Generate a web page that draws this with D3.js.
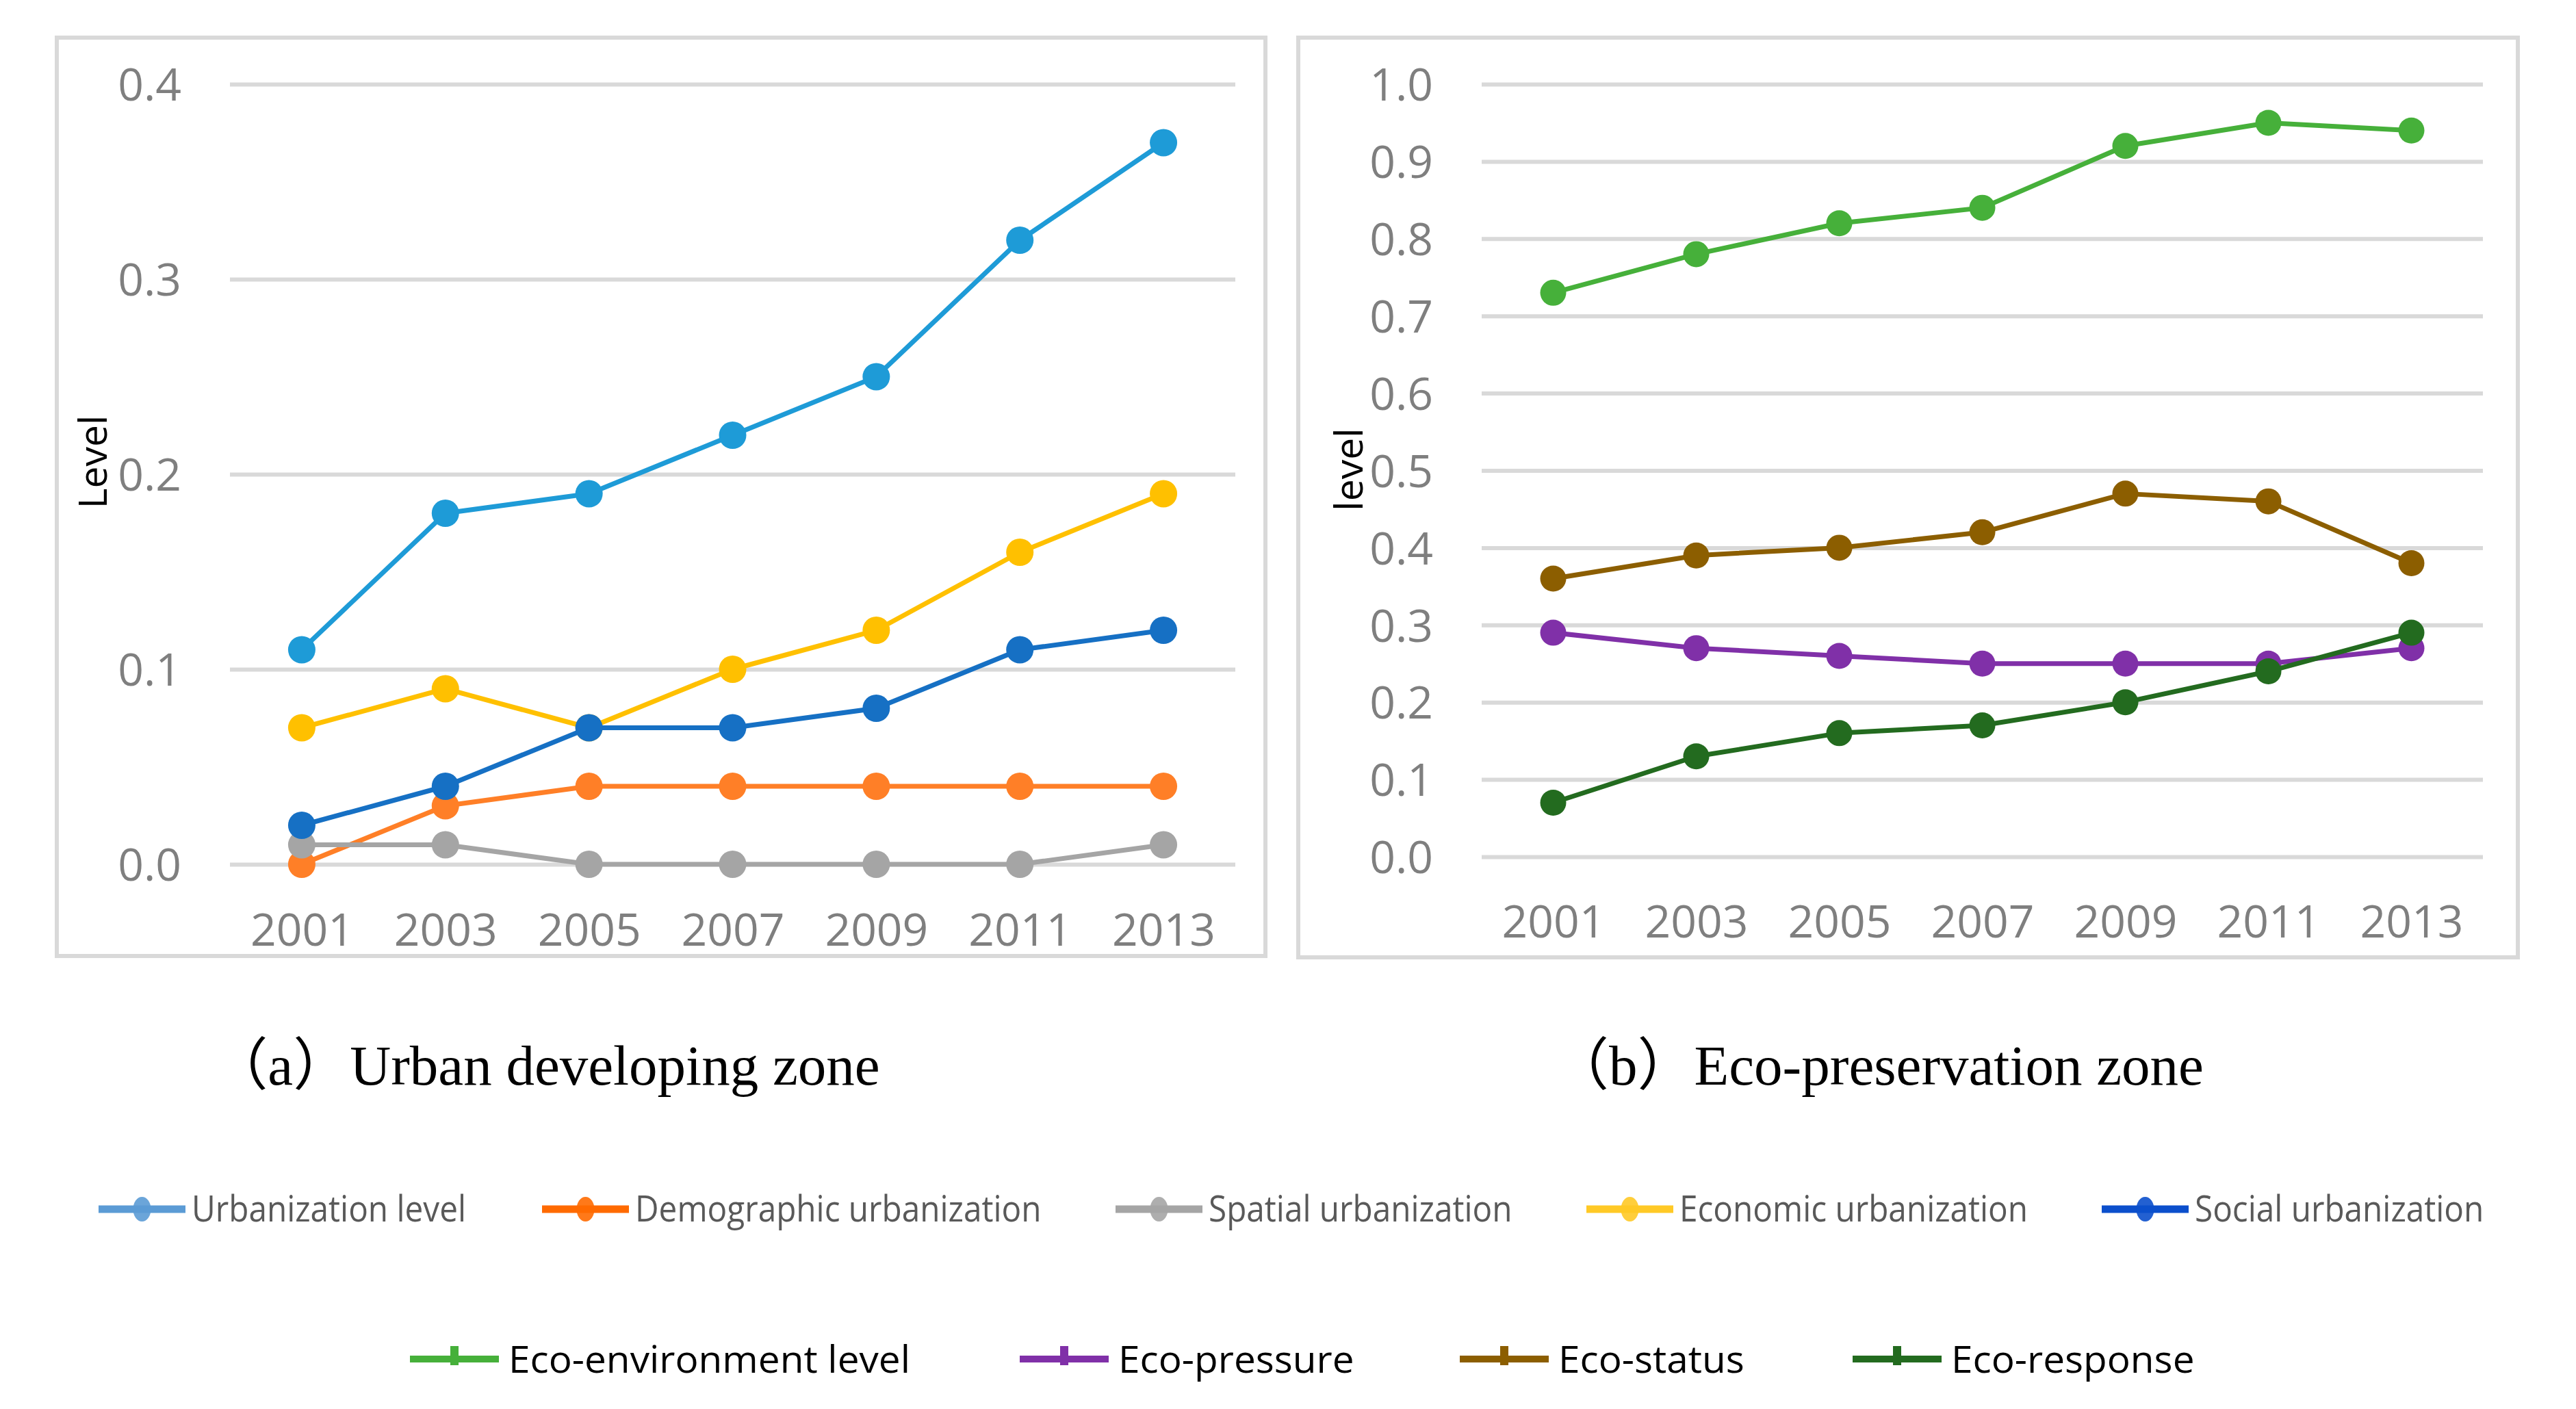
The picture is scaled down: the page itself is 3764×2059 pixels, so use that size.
<!DOCTYPE html>
<html>
<head>
<meta charset="utf-8">
<script src="https://cdn.jsdelivr.net/npm/d3@7"></script>
<style>
  html, body { margin: 0; padding: 0; background: #ffffff; }
  svg { display: block; }
</style>
</head>
<body>
<svg id="chart" width="3764" height="2059"></svg>
<script>
// ---------------- DATA ----------------
const years = ["2001", "2003", "2005", "2007", "2009", "2011", "2013"];

// (a) Urban developing zone
const urbanizationLevel       = [0.11, 0.18, 0.19, 0.22, 0.25, 0.32, 0.37];
const demographicUrbanization = [0.00, 0.03, 0.04, 0.04, 0.04, 0.04, 0.04];
const spatialUrbanization     = [0.01, 0.01, 0.00, 0.00, 0.00, 0.00, 0.01];
const economicUrbanization    = [0.07, 0.09, 0.07, 0.10, 0.12, 0.16, 0.19];
const socialUrbanization      = [0.02, 0.04, 0.07, 0.07, 0.08, 0.11, 0.12];

// (b) Eco-preservation zone
const ecoEnvironmentLevel = [0.73, 0.78, 0.82, 0.84, 0.92, 0.95, 0.94];
const ecoPressure         = [0.29, 0.27, 0.26, 0.25, 0.25, 0.25, 0.27];
const ecoStatus           = [0.36, 0.39, 0.40, 0.42, 0.47, 0.46, 0.38];
const ecoResponse         = [0.07, 0.13, 0.16, 0.17, 0.20, 0.24, 0.29];

const leftTicks  = [0.0, 0.1, 0.2, 0.3, 0.4];
const rightTicks = [0.0, 0.1, 0.2, 0.3, 0.4, 0.5, 0.6, 0.7, 0.8, 0.9, 1.0];

const leftNames  = ["Urbanization level", "Demographic urbanization", "Spatial urbanization", "Economic urbanization", "Social urbanization"];
const rightNames = ["Eco-environment level", "Eco-pressure", "Eco-status", "Eco-response"];

// ---------------- STYLES ----------------
const leftColors   = ["#1e9bd7", "#ff7f27", "#a5a5a5", "#ffc000", "#1670c4"];
const leftLegendColors = ["#5b9bd5", "#ff6a00", "#a5a5a5", "#ffc926", "#0b4fcc"];
const rightColors  = ["#46b03a", "#8030a8", "#8c5e00", "#236b1f"];

const leftSeries = [urbanizationLevel, demographicUrbanization, spatialUrbanization, economicUrbanization, socialUrbanization]
  .map((v, i) => ({ name: leftNames[i], values: v, color: leftColors[i], legendColor: leftLegendColors[i] }));
const rightSeries = [ecoEnvironmentLevel, ecoPressure, ecoStatus, ecoResponse]
  .map((v, i) => ({ name: rightNames[i], values: v, color: rightColors[i], legendColor: rightColors[i] }));

// ---------------- DRAW ----------------
const svg = d3.select("#chart");
svg.append("rect").attr("width", 3764).attr("height", 2059).attr("fill", "#ffffff");

const TICK_FONT = "'Open Sans', 'Noto Sans', sans-serif";

function panel(cfg) {
  const g = svg.append("g");
  // frame
  g.append("rect")
    .attr("x", cfg.frame[0]).attr("y", cfg.frame[1])
    .attr("width", cfg.frame[2] - cfg.frame[0]).attr("height", cfg.frame[3] - cfg.frame[1])
    .attr("fill", "none").attr("stroke", "#d9d9d9").attr("stroke-width", 6);

  const x = d3.scalePoint().domain(years).range([cfg.x0, cfg.x1]).padding(0.5);
  const y = d3.scaleLinear().domain(cfg.domain).range([cfg.yBottom, cfg.yTop]);

  // y axis with gridlines
  const ya = g.append("g").attr("transform", `translate(${cfg.x0},0)`)
    .call(d3.axisLeft(y).tickValues(cfg.ticks).tickFormat(d3.format(".1f"))
      .tickSizeInner(-(cfg.x1 - cfg.x0)).tickSizeOuter(0).tickPadding(cfg.x0 - cfg.labelRight));
  ya.select(".domain").remove();
  ya.selectAll(".tick line").attr("stroke", "#d9d9d9").attr("stroke-width", 6);
  ya.selectAll(".tick text").attr("fill", "#7f7f7f").attr("font-family", TICK_FONT)
    .attr("font-size", 66).attr("dy", "0.36em");

  // x axis labels
  const xa = g.append("g").attr("transform", `translate(0,${cfg.yBottom})`)
    .call(d3.axisBottom(x).tickSize(0));
  xa.select(".domain").remove();
  xa.selectAll(".tick text").attr("fill", "#7f7f7f").attr("font-family", TICK_FONT)
    .attr("font-size", 66).attr("y", cfg.xLabelBaseline - cfg.yBottom).attr("dy", 0);

  // y axis title
  g.append("text")
    .attr("transform", `translate(${cfg.titleX},${cfg.titleY}) rotate(-90)`)
    .attr("text-anchor", "middle").attr("font-family", TICK_FONT)
    .attr("font-size", 57).attr("fill", "#000000").text(cfg.title);

  const line = d3.line().x((d, i) => x(years[i])).y(d => y(d));
  cfg.series.forEach(s => {
    const sg = g.append("g");
    sg.append("path").attr("d", line(s.values)).attr("fill", "none")
      .attr("stroke", s.color).attr("stroke-width", 7).attr("stroke-linejoin", "round");
    sg.selectAll("circle").data(s.values).join("circle")
      .attr("cx", (d, i) => x(years[i])).attr("cy", d => y(d))
      .attr("r", cfg.r).attr("fill", s.color);
  });

  // caption
  svg.append("text").attr("x", cfg.captionX).attr("y", 1585)
    .attr("text-anchor", "middle")
    .attr("font-family", "'Liberation Serif', 'Noto Sans CJK SC', serif")
    .attr("font-size", 83).attr("fill", "#000000").text(cfg.caption);
}

panel({
  frame: [83, 55, 1849, 1397],
  x0: 336, x1: 1805, yTop: 123, yBottom: 1263, domain: [0, 0.4], ticks: leftTicks,
  labelRight: 265, xLabelBaseline: 1382, title: "Level", titleX: 156, titleY: 675,
  series: leftSeries, r: 20, caption: "（a）Urban developing zone", captionX: 797
});
panel({
  frame: [1897, 55, 3679, 1399],
  x0: 2165, x1: 3628, yTop: 123, yBottom: 1252, domain: [0, 1.0], ticks: rightTicks,
  labelRight: 2094, xLabelBaseline: 1370, title: "level", titleX: 1991, titleY: 686,
  series: rightSeries, r: 19, caption: "（b）Eco-preservation zone", captionX: 2744
});

// ---------------- LEGENDS ----------------
function legendRow(items, cfg) {
  items.forEach((s, i) => {
    const sx = cfg.starts[i];
    const g = svg.append("g");
    g.append("line").attr("x1", sx).attr("x2", sx + cfg.symLen)
      .attr("y1", cfg.cy).attr("y2", cfg.cy)
      .attr("stroke", s.legendColor).attr("stroke-width", cfg.lineW);
    if (cfg.marker === "circle") {
      g.append("ellipse").attr("cx", sx + cfg.symLen / 2).attr("cy", cfg.cy)
        .attr("rx", 13).attr("ry", 18).attr("fill", s.legendColor).attr("opacity", 0.9);
    } else {
      g.append("rect").attr("x", sx + cfg.symLen / 2 - 6).attr("y", cfg.cy - 19)
        .attr("width", 12).attr("height", 28).attr("fill", s.legendColor);
    }
    const t = g.append("text").attr("x", sx + cfg.textOffset).attr("y", cfg.baseline)
      .attr("font-family", TICK_FONT).attr("font-size", cfg.fontSize)
      .attr("fill", cfg.textColor).text(s.name);
    const w = t.node().getComputedTextLength();
    t.attr("textLength", w * cfg.squeeze).attr("lengthAdjust", "spacingAndGlyphs");
  });
}

legendRow(leftSeries, {
  starts: [144, 792, 1630, 2318, 3071], symLen: 127, textOffset: 136,
  cy: 1767, baseline: 1785, fontSize: 53, squeeze: 0.9, textColor: "#595959",
  lineW: 11, marker: "circle"
});
legendRow(rightSeries, {
  starts: [599, 1490, 2133, 2707], symLen: 130, textOffset: 144,
  cy: 1986, baseline: 2006, fontSize: 54, squeeze: 1.05, textColor: "#000000",
  lineW: 10, marker: "rect"
});
</script>
</body>
</html>
